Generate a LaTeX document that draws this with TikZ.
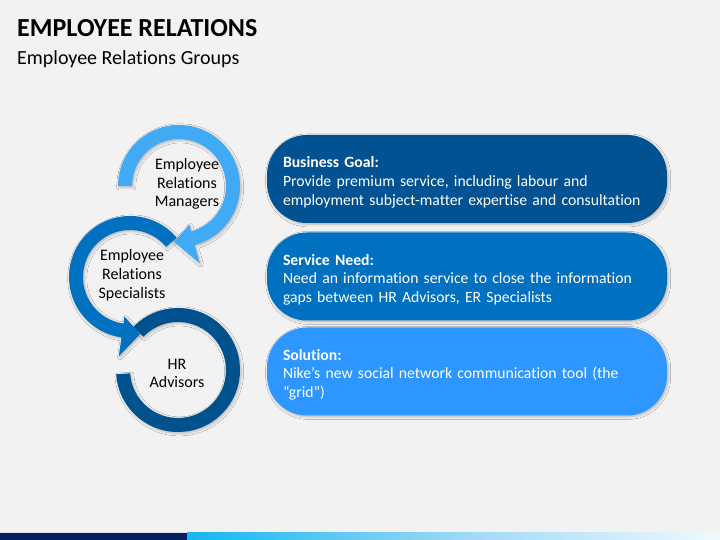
\documentclass[tikz,border=0pt]{standalone}
\usepackage{fontspec}
\setmainfont{Carlito}[Ligatures=NoCommon]
\usetikzlibrary{shadows.blur}

\definecolor{slidebg}{HTML}{F2F2F2}
\definecolor{ringA}{HTML}{41AAF5}
\definecolor{ringB}{HTML}{0070C0}
\definecolor{ringC}{HTML}{00528F}
\definecolor{pillA}{HTML}{005292}
\definecolor{pillB}{HTML}{0070C0}
\definecolor{pillC}{HTML}{2D96FF}
\definecolor{barnavy}{HTML}{002060}
\definecolor{barA}{HTML}{0068BD}
\definecolor{barB}{HTML}{00B0F0}
\definecolor{barC}{HTML}{9ED9F6}
\definecolor{barD}{HTML}{1E88D2}
\pgfdeclarehorizontalshading{barshade}{100bp}{color(0bp)=(barA); color(21bp)=(barB); color(51bp)=(barC); color(79bp)=(white); color(100bp)=(barD)}

\begin{document}
\begin{tikzpicture}[x=1pt,y=1pt,line join=round,
  softshadow/.style={blur shadow={shadow xshift=1.2pt,shadow yshift=-1.4pt,shadow blur radius=2.5pt,shadow opacity=25}},
  pill/.style={softshadow,rounded corners=40pt,minimum width=400pt,minimum height=88pt,
    text width=368pt,inner xsep=16pt,align=left,text=white,font=\fontsize{15.7}{18.8}\selectfont,
    execute at begin node={\rule{0pt}{17.5pt}}},
  ringtext/.style={align=center,inner sep=0pt,font=\fontsize{16}{18.8}\selectfont}]
\useasboundingbox (0,0) rectangle (720,540);
\fill[slidebg] (0,0) rectangle (720,540);
% heading
\node[anchor=base west,inner sep=0pt,font=\bfseries\fontsize{26}{31}\selectfont] (title) at (17,503) {EMPLOYEE RELATIONS};
\node[anchor=base west,inner sep=0pt,font=\fontsize{20}{24}\selectfont] (subtitle) at (17,475) {Employee Relations Groups};
% ring centres
\coordinate (mgr) at (179,354);
\coordinate (spec) at (130,263);
\coordinate (adv) at (178,170);
% rings, lowest first
\begin{scope}[shift={(adv)}]
\fill[ringC,softshadow] (136:62) arc[start angle=136,end angle=-176,radius=62] -- (-176:48) arc[start angle=-176,end angle=136,radius=48] -- cycle;
\end{scope}
\begin{scope}[shift={(spec)}]
\fill[ringB,softshadow] (40:61) arc[start angle=40,end angle=262,radius=61] -- (262:80) -- (280:58) -- (262:40) -- (262:47) arc[start angle=262,end angle=40,radius=47] -- cycle;
\end{scope}
\begin{scope}[shift={(mgr)}]
\fill[ringA,softshadow] (180:61) arc[start angle=180,end angle=-75,radius=61] -- (-75:80) -- (-95:56) -- (-75:40) -- (-75:47) arc[start angle=-75,end angle=180,radius=47] -- cycle;
\end{scope}
\node[ringtext] (mgrtext) at (187,356) {Employee\\Relations\\Managers};
\node[ringtext] (spectext) at (132,264.5) {Employee\\Relations\\Specialists};
\node[ringtext] (advtext) at (177,166.5) {HR\\Advisors};
% text panels
\node[pill,fill=pillA] (goal) at (467,361) {\textbf{Business Goal:}\\Provide premium service, including labour and\\employment subject-matter expertise and consultation};
\node[pill,fill=pillB] (need) at (467,263.5) {\textbf{Service Need:}\\Need an information service to close the information\\gaps between HR Advisors, ER Specialists};
\node[pill,fill=pillC] (solution) at (467,168.5) {\textbf{Solution:}\\Nike’s new social network communication tool (the\\“grid”)};
% footer band
\fill[black!12] (0,7) rectangle (720,8);
\fill[barnavy] (0,0) rectangle (187,7);
\shade[shading=barshade] (187,0) rectangle (720,7);
\end{tikzpicture}
\end{document}
